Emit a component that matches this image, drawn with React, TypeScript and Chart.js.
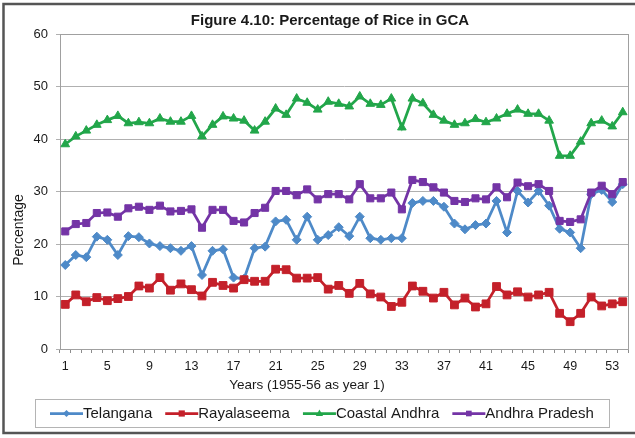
import React, { useEffect, useRef } from 'react';
import { Chart, registerables } from 'chart.js';

Chart.register(...registerables);

const YEARS = [
  '1', '2', '3', '4', '5', '6', '7', '8', '9', '10',
  '11', '12', '13', '14', '15', '16', '17', '18', '19', '20',
  '21', '22', '23', '24', '25', '26', '27', '28', '29', '30',
  '31', '32', '33', '34', '35', '36', '37', '38', '39', '40',
  '41', '42', '43', '44', '45', '46', '47', '48', '49', '50',
  '51', '52', '53', '54',
];

const TELANGANA = [
  16.0, 17.9, 17.5, 21.4, 20.8, 17.9, 21.5, 21.3, 20.1, 19.6,
  19.2, 18.7, 19.6, 14.1, 18.7, 19.0, 13.6, 13.4, 19.2, 19.5,
  24.3, 24.6, 20.8, 25.2, 20.8, 21.7, 23.2, 21.5, 25.2, 21.1,
  20.8, 21.1, 21.1, 27.8, 28.2, 28.2, 27.1, 23.9, 22.8, 23.6,
  23.9, 28.2, 22.2, 30.1, 27.9, 30.1, 27.3, 22.9, 22.2, 19.2,
  29.5, 30.3, 28.0, 31.4,
];

const RAYALASEEMA = [
  8.5, 10.3, 9.0, 9.8, 9.2, 9.6, 10.0, 12.0, 11.6, 13.6,
  11.2, 12.4, 11.3, 10.1, 12.7, 12.1, 11.6, 13.2, 12.9, 12.9,
  15.2, 15.1, 13.5, 13.5, 13.6, 11.4, 12.1, 10.6, 12.5, 10.5,
  9.9, 8.1, 8.9, 12.0, 11.0, 9.7, 10.8, 8.4, 9.7, 8.0,
  8.6, 11.9, 10.3, 10.9, 9.9, 10.3, 10.8, 6.8, 5.2, 6.8,
  9.9, 8.2, 8.6, 9.0,
];

const COASTAL_ANDHRA = [
  39.0, 40.5, 41.6, 42.7, 43.6, 44.4, 43.0, 43.2, 43.0, 43.9,
  43.3, 43.3, 44.4, 40.5, 42.7, 44.3, 43.9, 43.5, 41.6, 43.3,
  45.8, 44.6, 47.7, 46.9, 45.6, 47.1, 46.7, 46.2, 48.1, 46.7,
  46.5, 47.7, 42.2, 47.7, 46.8, 44.6, 43.5, 42.7, 43.0, 43.8,
  43.2, 43.9, 44.8, 45.6, 44.8, 44.8, 43.5, 36.8, 36.8, 39.5,
  43.0, 43.5, 42.4, 45.1,
];

const ANDHRA_PRADESH = [
  22.4, 23.8, 24.0, 25.9, 26.0, 25.2, 26.8, 27.1, 26.5, 27.3,
  26.2, 26.3, 26.6, 23.1, 26.5, 26.5, 24.4, 24.1, 25.9, 26.9,
  30.1, 30.1, 29.3, 30.4, 28.5, 29.5, 29.5, 28.5, 31.4, 28.7,
  28.7, 29.8, 26.6, 32.2, 31.8, 30.8, 29.8, 28.2, 28.0, 28.7,
  28.5, 30.8, 28.9, 31.7, 31.0, 31.4, 30.1, 24.4, 24.2, 24.7,
  29.8, 31.1, 29.5, 31.8,
];

const SERIES_NAMES = ['Telangana', 'Rayalaseema', 'Coastal Andhra', 'Andhra Pradesh'];
const SERIES_COLORS = ['#4e8ac8', '#c4202a', '#22a64a', '#7434a6'];
const SERIES_MARKERS = ['rectRot', 'rect', 'triangle', 'rect'];
const SERIES_RADII = [4.5, 5.5, 5, 5];

const TITLE = 'Figure 4.10: Percentage of Rice in GCA';
const Y_TITLE = 'Percentage';
const X_TITLE = 'Years (1955-56 as year 1)';
const Y_MIN = 0;
const Y_MAX = 60;
const Y_STEP = 10;
const X_LABEL_EVERY = 4;

const W = 635;
const H = 438;
const FONT = '"Liberation Sans", Arial, Helvetica, sans-serif';

function drawMarker(ctx: CanvasRenderingContext2D, style: string, x: number, y: number, r: number, color: string) {
  ctx.save();
  ctx.fillStyle = color;
  ctx.strokeStyle = color;
  ctx.beginPath();
  if (style === 'rectRot') {
    ctx.moveTo(x, y - r);
    ctx.lineTo(x + r, y);
    ctx.lineTo(x, y + r);
    ctx.lineTo(x - r, y);
    ctx.closePath();
  } else if (style === 'triangle') {
    ctx.moveTo(x, y - r);
    ctx.lineTo(x + r * 0.9, y + r * 0.6);
    ctx.lineTo(x - r * 0.9, y + r * 0.6);
    ctx.closePath();
  } else {
    const s = r * Math.SQRT1_2;
    ctx.rect(x - s, y - s, 2 * s, 2 * s);
  }
  ctx.fill();
  ctx.restore();
}

const decorPlugin = {
  id: 'decor',
  beforeDraw(chart: any) {
    const ctx: CanvasRenderingContext2D = chart.ctx;
    ctx.save();
    ctx.fillStyle = '#ffffff';
    ctx.fillRect(0, 0, W, H);
    ctx.strokeStyle = '#555555';
    ctx.lineWidth = 2.5;
    ctx.strokeRect(3.5, 4, W + 10, 429);
    ctx.restore();
  },
  beforeDatasetsDraw(chart: any) {
    const ctx: CanvasRenderingContext2D = chart.ctx;
    const a = chart.chartArea;
    ctx.save();
    ctx.strokeStyle = '#a0a0a0';
    ctx.lineWidth = 1;
    ctx.strokeRect(Math.round(a.left) + 0.5, Math.round(a.top) + 0.5, Math.round(a.right - a.left), Math.round(a.bottom - a.top));
    ctx.restore();
  },
  afterDraw(chart: any) {
    const ctx: CanvasRenderingContext2D = chart.ctx;
    ctx.save();
    ctx.fillStyle = '#1a1a1a';
    ctx.textAlign = 'center';
    ctx.textBaseline = 'middle';
    ctx.font = `bold 15px ${FONT}`;
    ctx.fillText(TITLE, 330, 21);

    ctx.font = `13.5px ${FONT}`;
    ctx.fillText(X_TITLE, 307, 385);

    ctx.save();
    ctx.translate(19, 230);
    ctx.rotate(-Math.PI / 2);
    ctx.font = `14px ${FONT}`;
    ctx.fillText(Y_TITLE, 0, 0);
    ctx.restore();

    // legend
    ctx.strokeStyle = '#b4b4b4';
    ctx.lineWidth = 1;
    ctx.strokeRect(35.5, 399.5, 574, 28);
    ctx.font = `15px ${FONT}`;
    ctx.textAlign = 'left';
    let x = 50;
    const cy = 413.5;
    for (let i = 0; i < SERIES_NAMES.length; i++) {
      const c = SERIES_COLORS[i];
      ctx.strokeStyle = c;
      ctx.lineWidth = 2.75;
      ctx.beginPath();
      ctx.moveTo(x, cy);
      ctx.lineTo(x + 33, cy);
      ctx.stroke();
      drawMarker(ctx, SERIES_MARKERS[i], x + 16.5, cy, SERIES_RADII[i] * 0.8, c);
      ctx.fillStyle = '#1a1a1a';
      ctx.fillText(SERIES_NAMES[i], x + 33, cy + 0.5);
      x += 33 + ctx.measureText(SERIES_NAMES[i]).width + 13;
    }
    ctx.restore();
  },
};

export default function App() {
  const ref = useRef<HTMLCanvasElement | null>(null);

  useEffect(() => {
    if (!ref.current) return;
    const seriesData = [TELANGANA, RAYALASEEMA, COASTAL_ANDHRA, ANDHRA_PRADESH];
    const datasets = SERIES_NAMES.map((name, i) => ({
      label: name,
      data: seriesData[i],
      borderColor: SERIES_COLORS[i],
      backgroundColor: SERIES_COLORS[i],
      pointBackgroundColor: SERIES_COLORS[i],
      pointBorderColor: SERIES_COLORS[i],
      pointStyle: SERIES_MARKERS[i],
      pointRadius: SERIES_RADII[i],
      pointBorderWidth: 1,
      borderWidth: 2.75,
      tension: 0,
      fill: false,
      order: SERIES_NAMES.length - i,
    }));

    const chart = new Chart(ref.current, {
      type: 'line',
      data: { labels: YEARS, datasets },
      options: {
        responsive: false,
        animation: false,
        devicePixelRatio: 1,
        layout: { padding: { top: 34, right: 7, bottom: 0, left: 0 } },
        plugins: {
          legend: { display: false },
          title: { display: false },
          tooltip: { enabled: false },
        },
        scales: {
          x: {
            type: 'category',
            offset: true,
            grid: {
              display: true,
              drawOnChartArea: false,
              drawTicks: true,
              tickLength: 4,
              color: '#8c8c8c',
              offset: true,
            },
            border: { display: true, color: '#8c8c8c', width: 1 },
            ticks: {
              autoSkip: false,
              maxRotation: 0,
              minRotation: 0,
              padding: 6,
              color: '#1a1a1a',
              font: { family: FONT, size: 12.5 },
              callback: (_v: any, i: number) => (i % X_LABEL_EVERY === 0 ? YEARS[i] : ''),
            },
            afterFit: (s: any) => {
              s.height = 89;
            },
          },
          y: {
            min: Y_MIN,
            max: Y_MAX,
            ticks: {
              stepSize: Y_STEP,
              padding: 8,
              color: '#1a1a1a',
              font: { family: FONT, size: 13 },
            },
            grid: { color: '#b0b0b0', lineWidth: 1, tickLength: 4 },
            border: { display: true, color: '#8c8c8c', width: 1 },
            afterFit: (s: any) => {
              s.width = 60;
            },
          },
        },
      } as any,
      plugins: [decorPlugin],
    });
    return () => chart.destroy();
  }, []);

  return (
    <div style={{ position: 'fixed', left: 0, top: 0, width: W, height: H, background: '#fff' }}>
      <canvas ref={ref} width={W} height={H} style={{ display: 'block', width: W, height: H }} />
    </div>
  );
}
